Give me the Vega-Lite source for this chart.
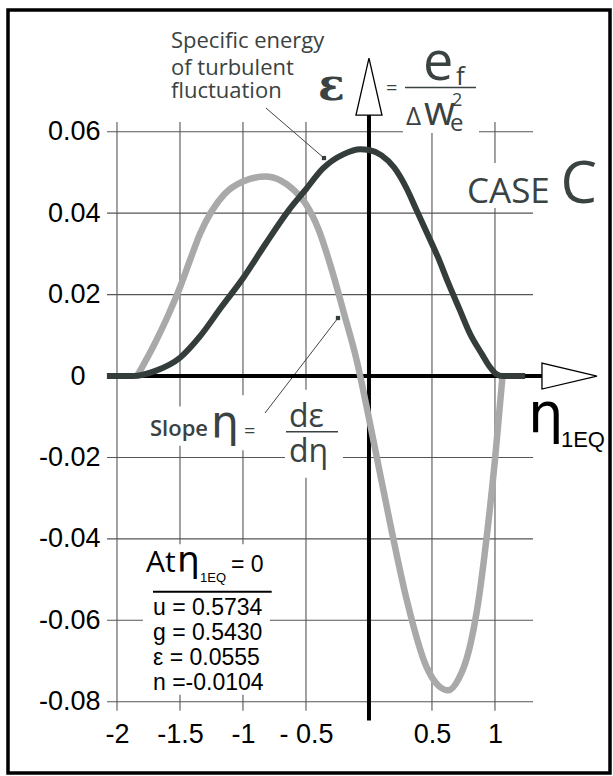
{
  "$schema": "https://vega.github.io/schema/vega-lite/v6.json",
  "width": 602,
  "height": 763,
  "autosize": {"type": "none"},
  "padding": {"left": 8, "top": 10, "right": 3, "bottom": 3},
  "background": "white",
  "config": {
    "view": {"stroke": "#000", "strokeWidth": 3.5},
    "text": {"align": "left", "baseline": "alphabetic"}
  },
  "encoding": {
    "x": {
      "field": "x", "type": "quantitative",
      "scale": {"domain": [-2.865, 1.913], "nice": false, "zero": false},
      "axis": {
        "title": null, "orient": "bottom", "offset": -52,
        "values": [-2, -1.5, -1, -0.5, 0.5, 1],
        "domain": false, "ticks": false, "grid": false, "labelPadding": 0,
        "labelFont": "Liberation Sans", "labelFontSize": 27, "labelColor": "#000",
        "labelBaseline": "top", "labelFlush": false, "labelOverlap": false,
        "labelExpr": "datum.value == -0.5 ? '- 0.5' : (datum.value < 0 ? '-' : '') + format(abs(datum.value), '~g')"
      }
    },
    "y": {
      "field": "y", "type": "quantitative",
      "scale": {"domain": [-0.0975, 0.0899], "nice": false, "zero": false},
      "axis": {
        "title": null, "orient": "left", "offset": -92,
        "values": [-0.08, -0.06, -0.04, -0.02, 0, 0.02, 0.04, 0.06],
        "domain": false, "ticks": false, "grid": false,
        "labelPadding": {"condition": {"test": "datum.value == 0", "value": 15}, "value": 0},
        "labelFont": "Liberation Sans", "labelFontSize": 27, "labelColor": "#000",
        "labelFlush": false, "labelOverlap": false,
        "labelExpr": "datum.value == 0 ? '0' : (datum.value < 0 ? '-' : '') + format(abs(datum.value), '.2f')"
      }
    }
  },
  "layer": [
    {
      "data": {"values": [
        {"x": -2.079, "x2": 0.270, "y": 0.06, "y2": 0.06},
        {"x": 0.873, "x2": 1.302, "y": 0.06, "y2": 0.06},
        {"x": -2.079, "x2": 1.302, "y": 0.04, "y2": 0.04},
        {"x": -2.079, "x2": 1.302, "y": 0.02, "y2": 0.02},
        {"x": -2.079, "x2": -0.667, "y": -0.02, "y2": -0.02},
        {"x": -0.206, "x2": 1.302, "y": -0.02, "y2": -0.02},
        {"x": -2.079, "x2": 1.302, "y": -0.04, "y2": -0.04},
        {"x": -2.079, "x2": -1.794, "y": -0.06, "y2": -0.06},
        {"x": -0.786, "x2": 1.302, "y": -0.06, "y2": -0.06},
        {"x": -2.079, "x2": 1.302, "y": -0.08, "y2": -0.08},
        {"x": -2, "x2": -2, "y": 0.0624, "y2": -0.0822},
        {"x": -1.5, "x2": -1.5, "y": 0.0624, "y2": -0.0075},
        {"x": -1.5, "x2": -1.5, "y": -0.0171, "y2": -0.0413},
        {"x": -1.5, "x2": -1.5, "y": -0.0783, "y2": -0.0822},
        {"x": -1, "x2": -1, "y": 0.0624, "y2": -0.0047},
        {"x": -1, "x2": -1, "y": -0.0182, "y2": -0.0413},
        {"x": -1, "x2": -1, "y": -0.0783, "y2": -0.0822},
        {"x": -0.5, "x2": -0.5, "y": 0.0624, "y2": -0.0034},
        {"x": -0.5, "x2": -0.5, "y": -0.0250, "y2": -0.0822},
        {"x": 0.5, "x2": 0.5, "y": 0.0597, "y2": -0.0822},
        {"x": 1, "x2": 1, "y": 0.0624, "y2": 0.0523},
        {"x": 1, "x2": 1, "y": 0.0413, "y2": -0.0822}
      ]},
      "mark": {"type": "rule", "color": "#555555", "strokeWidth": 1.1},
      "encoding": {"x2": {"field": "x2"}, "y2": {"field": "y2"}}
    },
    {
      "data": {"values": [
        {"x": -0.8175, "x2": -0.3571, "y": 0.06582, "y2": 0.05354},
        {"x": -0.8254, "x2": -0.2460, "y": -0.00909, "y2": 0.01425}
      ]},
      "mark": {"type": "rule", "color": "#444444", "strokeWidth": 1},
      "encoding": {"x2": {"field": "x2"}, "y2": {"field": "y2"}}
    },
    {
      "data": {"values": [
        {"x": -2.079, "x2": 1.373, "y": 0, "y2": 0},
        {"x": 0, "x2": 0, "y": -0.0846, "y2": 0.0641}
      ]},
      "mark": {"type": "rule", "color": "#000000", "strokeWidth": 4},
      "encoding": {"x2": {"field": "x2"}, "y2": {"field": "y2"}}
    },
    {
      "data": {"values": [
        {"x": -1.84, "y": 0},
        {"x": -1.7, "y": 0.0080},
        {"x": -1.6, "y": 0.0145},
        {"x": -1.5, "y": 0.0218},
        {"x": -1.42, "y": 0.0285},
        {"x": -1.34, "y": 0.0350},
        {"x": -1.25, "y": 0.0404},
        {"x": -1.15, "y": 0.0446},
        {"x": -1.0, "y": 0.0478},
        {"x": -0.82, "y": 0.0490},
        {"x": -0.7, "y": 0.0480},
        {"x": -0.6, "y": 0.0458},
        {"x": -0.5, "y": 0.0422},
        {"x": -0.4, "y": 0.0360},
        {"x": -0.3, "y": 0.0266},
        {"x": -0.2, "y": 0.0156},
        {"x": -0.1, "y": 0.0042},
        {"x": 0.0, "y": -0.0104},
        {"x": 0.061, "y": -0.0198},
        {"x": 0.18, "y": -0.0380},
        {"x": 0.30, "y": -0.0550},
        {"x": 0.455, "y": -0.0713},
        {"x": 0.55, "y": -0.0760},
        {"x": 0.63, "y": -0.0772},
        {"x": 0.71, "y": -0.0745},
        {"x": 0.795, "y": -0.0672},
        {"x": 0.87, "y": -0.0550},
        {"x": 0.94, "y": -0.0380},
        {"x": 1.0, "y": -0.0206},
        {"x": 1.06, "y": 0}
      ]},
      "mark": {"type": "line", "color": "#a9a9a9", "strokeWidth": 6.5, "interpolate": "monotone"}
    },
    {
      "data": {"values": [
        {"x": -2.08, "y": 0},
        {"x": -1.87, "y": 0},
        {"x": -1.7, "y": 0.0012},
        {"x": -1.5, "y": 0.0045},
        {"x": -1.34, "y": 0.0098},
        {"x": -1.17, "y": 0.0170},
        {"x": -1.0, "y": 0.0240},
        {"x": -0.82, "y": 0.0325},
        {"x": -0.63, "y": 0.0410},
        {"x": -0.51, "y": 0.0455},
        {"x": -0.365, "y": 0.0510},
        {"x": -0.2, "y": 0.0545},
        {"x": -0.07, "y": 0.0557},
        {"x": 0.0, "y": 0.0555},
        {"x": 0.1, "y": 0.0542},
        {"x": 0.2, "y": 0.0512},
        {"x": 0.3, "y": 0.0460},
        {"x": 0.378, "y": 0.0407},
        {"x": 0.455, "y": 0.0355},
        {"x": 0.55, "y": 0.0290},
        {"x": 0.63, "y": 0.0228},
        {"x": 0.72, "y": 0.0163},
        {"x": 0.8, "y": 0.0105},
        {"x": 0.9, "y": 0.0052},
        {"x": 0.96, "y": 0.0022},
        {"x": 1.01, "y": 0.0005},
        {"x": 1.06, "y": 0},
        {"x": 1.24, "y": 0}
      ]},
      "mark": {"type": "line", "color": "#343c3c", "strokeWidth": 6, "interpolate": "monotone"}
    },
    {
      "data": {"values": [{"x": 0, "y": 0.0711}]},
      "mark": {"type": "point", "shape": "M0,-1L0.456,1L-0.456,1Z", "size": 3249, "fill": "#ffffff", "stroke": "#000000", "strokeWidth": 1.3, "opacity": 1, "fillOpacity": 1}
    },
    {
      "data": {"values": [{"x": 1.5913, "y": 0}]},
      "mark": {"type": "point", "shape": "M1,0L-1,-0.473L-1,0.473Z", "size": 3025, "fill": "#ffffff", "stroke": "#000000", "strokeWidth": 1.3, "opacity": 1, "fillOpacity": 1}
    },
    {
      "data": {"values": [{"x": -0.3571, "y": 0.05354}, {"x": -0.2460, "y": 0.01425}]},
      "mark": {"type": "point", "shape": "square", "size": 18, "filled": true, "color": "#343c3c", "opacity": 1}
    },
    {
      "data": {"values": [
        {"x": 0.2857, "x2": 0.8492, "y": 0.07086, "y2": 0.07086},
        {"x": -0.6587, "x2": -0.2460, "y": -0.01368, "y2": -0.01368}
      ]},
      "mark": {"type": "rule", "color": "#3a4242", "strokeWidth": 1.5},
      "encoding": {"x2": {"field": "x2"}, "y2": {"field": "y2"}}
    },
    {
      "data": {"values": [{"x": -1.7143, "x2": -0.7722, "y": -0.05298, "y2": -0.05298}]},
      "mark": {"type": "rule", "color": "#000000", "strokeWidth": 2},
      "encoding": {"x2": {"field": "x2"}, "y2": {"field": "y2"}}
    },
    {
      "data": {"values": [
        {"x": -1.5714, "y": 0.08056, "text": "Specific energy"},
        {"x": -1.5714, "y": 0.07393, "text": "of turbulent"},
        {"x": -1.5714, "y": 0.06828, "text": "fluctuation"}
      ]},
      "mark": {"type": "text", "font": "Open Sans", "fontSize": 22, "color": "#3a4242"},
      "encoding": {"text": {"field": "text"}}
    },
    {
      "data": {"values": [{"x": -0.4048, "y": 0.06779, "text": "ε"}]},
      "mark": {"type": "text", "font": "DejaVu Serif", "fontWeight": "bold", "fontSize": 44, "color": "#3a4242"},
      "encoding": {"text": {"field": "text"}}
    },
    {
      "data": {"values": [
        {"x": 0.1349, "y": 0.06902, "text": "="},
        {"x": -0.9921, "y": -0.01523, "text": "="}
      ]},
      "mark": {"type": "text", "font": "Open Sans", "fontSize": 20, "color": "#3a4242"},
      "encoding": {"text": {"field": "text"}}
    },
    {
      "data": {"values": [{"x": 0.4286, "y": 0.0727, "text": "e"}]},
      "mark": {"type": "text", "font": "Open Sans", "fontSize": 54, "color": "#3a4242"},
      "encoding": {"text": {"field": "text"}}
    },
    {
      "data": {"values": [{"x": 0.6905, "y": 0.07147, "text": "f"}]},
      "mark": {"type": "text", "font": "Open Sans", "fontSize": 26, "color": "#3a4242"},
      "encoding": {"text": {"field": "text"}}
    },
    {
      "data": {"values": [{"x": 0.6429, "y": 0.06018, "text": "e"}]},
      "mark": {"type": "text", "font": "Open Sans", "fontSize": 24, "color": "#3a4242"},
      "encoding": {"text": {"field": "text"}}
    },
    {
      "data": {"values": [{"x": 0.2937, "y": 0.06165, "text": "Δ"}]},
      "mark": {"type": "text", "font": "Open Sans", "fontSize": 26, "color": "#3a4242"},
      "encoding": {"text": {"field": "text"}}
    },
    {
      "data": {"values": [{"x": 0.4365, "y": 0.06165, "text": "w"}]},
      "mark": {"type": "text", "font": "Open Sans", "fontSize": 40, "color": "#3a4242"},
      "encoding": {"text": {"field": "text"}}
    },
    {
      "data": {"values": [{"x": 0.6587, "y": 0.06630, "text": "2"}]},
      "mark": {"type": "text", "font": "Open Sans", "fontSize": 18, "color": "#3a4242"},
      "encoding": {"text": {"field": "text"}}
    },
    {
      "data": {"values": [{"x": 0.7778, "y": 0.04249, "text": "CASE"}]},
      "mark": {"type": "text", "font": "Open Sans", "fontSize": 35, "color": "#3a4242"},
      "encoding": {"text": {"field": "text"}}
    },
    {
      "data": {"values": [{"x": 1.5198, "y": 0.04249, "text": "C"}]},
      "mark": {"type": "text", "font": "Open Sans", "fontSize": 58, "color": "#3a4242"},
      "encoding": {"text": {"field": "text"}}
    },
    {
      "data": {"values": [{"x": -1.7381, "y": -0.01474, "text": "Slope"}]},
      "mark": {"type": "text", "font": "Open Sans", "fontSize": 22, "fontWeight": 600, "color": "#3a4242"},
      "encoding": {"text": {"field": "text"}}
    },
    {
      "data": {"values": [{"x": -1.2540, "y": -0.01498, "text": "η"}]},
      "mark": {"type": "text", "font": "DejaVu Sans", "fontSize": 44, "color": "#3a4242"},
      "encoding": {"text": {"field": "text"}}
    },
    {
      "data": {"values": [
        {"x": -0.6349, "y": -0.01253, "text": "dε"},
        {"x": -0.6349, "y": -0.02112, "text": "dη"}
      ]},
      "mark": {"type": "text", "font": "Open Sans", "fontSize": 32, "color": "#3a4242"},
      "encoding": {"text": {"field": "text"}}
    },
    {
      "data": {"values": [{"x": 1.2619, "y": -0.01375, "text": "η"}]},
      "mark": {"type": "text", "font": "DejaVu Sans", "fontSize": 56, "color": "#000000"},
      "encoding": {"text": {"field": "text"}}
    },
    {
      "data": {"values": [{"x": 1.5238, "y": -0.01744, "text": "1EQ"}]},
      "mark": {"type": "text", "font": "Liberation Sans", "fontSize": 22, "color": "#000000"},
      "encoding": {"text": {"field": "text"}}
    },
    {
      "data": {"values": [{"x": -1.7698, "y": -0.04814, "text": "At"}]},
      "mark": {"type": "text", "font": "Open Sans", "fontSize": 30, "color": "#000000"},
      "encoding": {"text": {"field": "text"}}
    },
    {
      "data": {"values": [{"x": -1.5238, "y": -0.04814, "text": "η"}]},
      "mark": {"type": "text", "font": "DejaVu Sans", "fontSize": 36, "color": "#000000"},
      "encoding": {"text": {"field": "text"}}
    },
    {
      "data": {"values": [{"x": -1.3413, "y": -0.0506, "text": "1EQ"}]},
      "mark": {"type": "text", "font": "Liberation Sans", "fontSize": 13, "color": "#000000"},
      "encoding": {"text": {"field": "text"}}
    },
    {
      "data": {"values": [
        {"x": -1.0952, "y": -0.04814, "text": "= 0"},
        {"x": -1.7143, "y": -0.05863, "text": "u = 0.5734"},
        {"x": -1.7143, "y": -0.06484, "text": "g = 0.5430"},
        {"x": -1.7143, "y": -0.07098, "text": "ε = 0.0555"},
        {"x": -1.7143, "y": -0.07712, "text": "n =-0.0104"}
      ]},
      "mark": {"type": "text", "font": "Liberation Sans", "fontSize": 23, "color": "#000000"},
      "encoding": {"text": {"field": "text"}}
    }
  ]
}
